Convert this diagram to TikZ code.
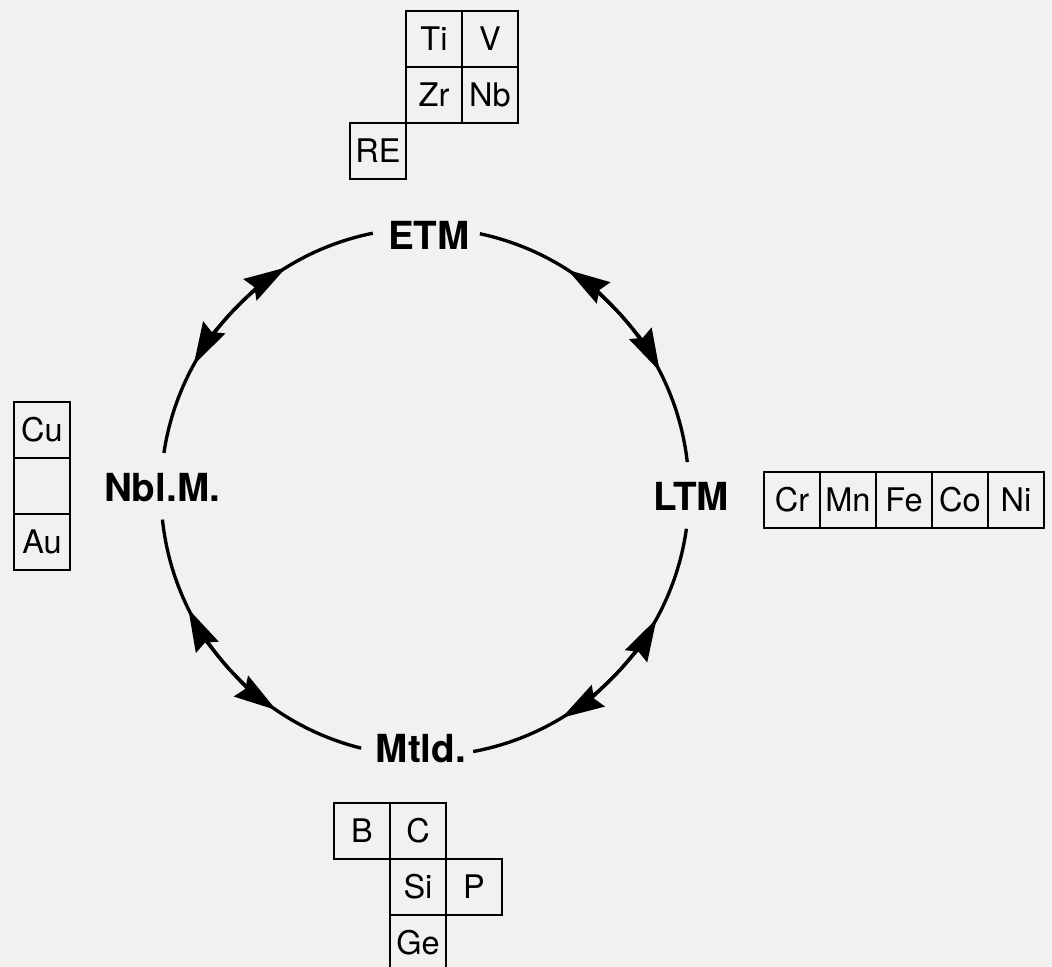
\documentclass[tikz,border=0pt]{standalone}
\usepackage{fontspec}
\setmainfont{TeX Gyre Heros}
\usepackage{tikz}
\usetikzlibrary{positioning,arrows.meta,calc}
\definecolor{paper}{HTML}{F1F1EF}

\begin{document}
\begin{tikzpicture}[x=0.02cm, y=0.02cm,
      elem/.style={draw, line width=1.5pt, minimum width=1.12cm,
      minimum height=1.12cm, outer sep=0pt, inner sep=0pt,
      font=\fontsize{18.5}{20}\selectfont},
      state/.style={inner sep=0pt, font=\bfseries\fontsize{22}{26}\selectfont},
      cyc/.style={line width=1.9pt},
      half/.style={line width=1.9pt, -{Stealth[length=0.85cm, width=0.5cm, inset=0.1cm]}},
    ]
    \fill[paper] (0,0) rectangle (1052,967);
    \useasboundingbox (0,0) rectangle (1052,967);

    % the four classes round the cycle
    \coordinate (c) at (425,475);
    \node[state] (etm) at (429,732) {ETM};
    \node[state] (ltm) at (691,471) {LTM};
    \node[state] (mtld) at (421,218) {Mtld.};
    \node[state] (nbl) at (162,479) {Nbl.M.};

    \coordinate (etm-e) at ($(c)+(78:264)$);
    \coordinate (ltm-s) at ($(c)+(-8:264)$);
    \coordinate (mtld-w) at ($(c)+(-104:264)$);
    \coordinate (nbl-n) at ($(c)+(171.5:264)$);
    \draw[cyc] (etm-e) arc[start angle=78, end angle=6.5, radius=264];
    \draw[cyc] (ltm-s) arc[start angle=-8, end angle=-79.5, radius=264];
    \draw[cyc] (mtld-w) arc[start angle=-104, end angle=-174, radius=264];
    \draw[cyc] (nbl-n) arc[start angle=171.5, end angle=101.4, radius=264];

    % two-way arrows, from the middle of each arc
    \coordinate (m1) at ($(c)+(42.25:264)$);
    \coordinate (m2) at ($(c)+(-43.75:264)$);
    \coordinate (m3) at ($(c)+(-139:264)$);
    \coordinate (m4) at ($(c)+(136.45:264)$);
    \draw[half] (m1) arc[start angle=42.25, end angle=57.3, radius=264];
    \draw[half] (m1) arc[start angle=42.25, end angle=27.2, radius=264];
    \draw[half] (m2) arc[start angle=-43.75, end angle=-28.7, radius=264];
    \draw[half] (m2) arc[start angle=-43.75, end angle=-58.8, radius=264];
    \draw[half] (m3) arc[start angle=-139, end angle=-124.3, radius=264];
    \draw[half] (m3) arc[start angle=-139, end angle=-153.7, radius=264];
    \draw[half] (m4) arc[start angle=136.45, end angle=151.2, radius=264];
    \draw[half] (m4) arc[start angle=136.45, end angle=121.7, radius=264];

    % ETM elements
    \node[elem] (ti) at (434,928) {Ti};
    \node[elem, right=0pt of ti] (v) {V};
    \node[elem, below=0pt of ti] (zr) {Zr};
    \node[elem, right=0pt of zr] (nb) {Nb};
    \node[elem, below left=0pt of zr] (re) {RE};

    % LTM elements
    \node[elem] (cr) at (792,467) {Cr};
    \node[elem, right=0pt of cr] (mn) {Mn};
    \node[elem, right=0pt of mn] (fe) {Fe};
    \node[elem, right=0pt of fe] (co) {Co};
    \node[elem, right=0pt of co] (ni) {Ni};

    % metalloids
    \node[elem] (b) at (362,136) {B};
    \node[elem, right=0pt of b] (cc) {C};
    \node[elem, below=0pt of cc] (si) {Si};
    \node[elem, right=0pt of si] (p) {P};
    \node[elem, below=0pt of si] (ge) {Ge};

    % noble metals
    \node[elem] (cu) at (42,537) {Cu};
    \node[elem, below=0pt of cu] (ag) {};
    \node[elem, below=0pt of ag] (au) {Au};
  \end{tikzpicture}
\end{document}
